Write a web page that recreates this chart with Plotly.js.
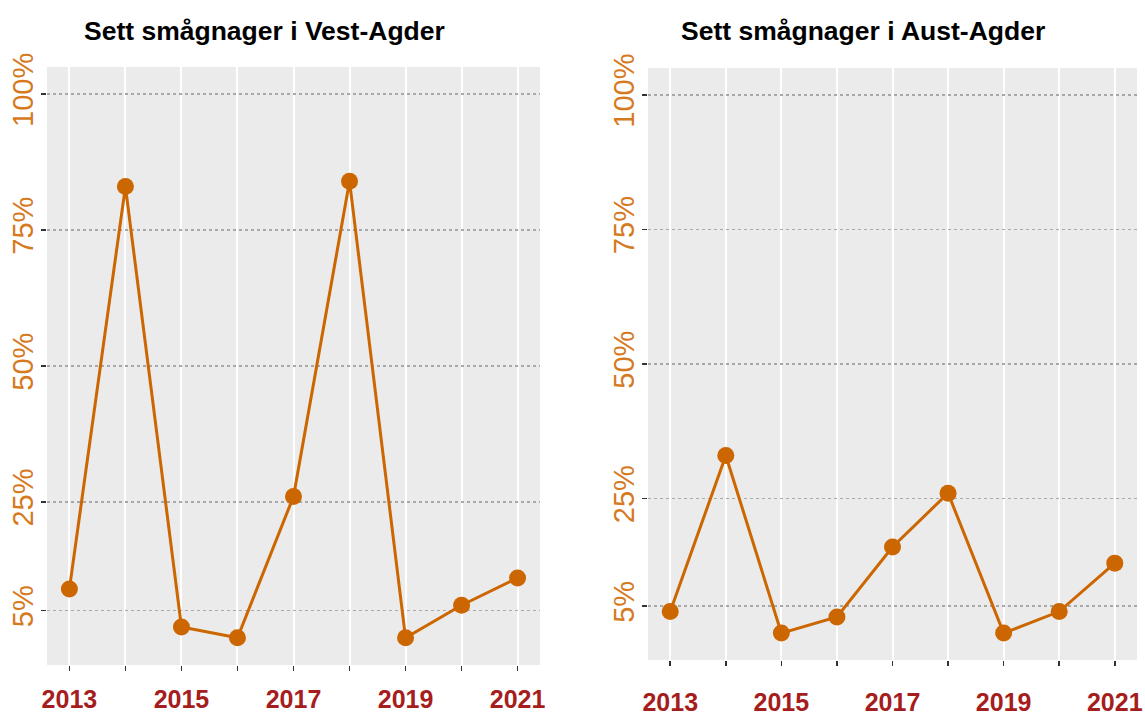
<!DOCTYPE html>
<html>
<head>
<meta charset="utf-8">
<script src="https://cdn.plot.ly/plotly-3.0.1.min.js"></script>
<style>html,body{margin:0;padding:0;background:#fff;}#chart{width:1145px;height:715px;}</style>
</head>
<body>
<div id="chart"></div>
<script>
const years = [2013, 2014, 2015, 2016, 2017, 2018, 2019, 2020, 2021];
const xTickText = ["2013", "", "2015", "", "2017", "", "2019", "", "2021"];
const vestAgder = [9, 83, 2, 0, 26, 84, 0, 6, 11];
const austAgder = [4, 33, 0, 3, 16, 26, 0, 4, 13];
const yTickVals = [5, 25, 50, 75, 100];
const yTickText = ["5%", "25%", "50%", "75%", "100%"];
const titles = ["Sett smågnager i Vest-Agder", "Sett smågnager i Aust-Agder"];

const W = 1145, H = 715;
const FONT = "Liberation Sans, Arial, Helvetica, sans-serif";
const lineColor = "#CC6600";
const yLabColor = "#D67A1F";
const xLabColor = "#A51D1D";

function trace(y, xa, ya) {
  return {
    x: years, y: y, xaxis: xa, yaxis: ya,
    type: "scatter", mode: "lines+markers",
    line: {color: lineColor, width: 3},
    marker: {color: lineColor, size: 17},
    hoverinfo: "x+y", showlegend: false
  };
}

function xaxis(dom, anchor, standoff) {
  return {
    domain: dom, anchor: anchor, range: [2012.6, 2021.4],
    tickmode: "array", tickvals: years, ticktext: xTickText,
    ticks: "outside", ticklen: 5, tickwidth: 1.5, tickcolor: "#333",
    tickfont: {family: FONT, size: 25, color: xLabColor, weight: "bold"},
    ticklabelstandoff: standoff,
    showgrid: true, gridcolor: "#ffffff", gridwidth: 2,
    zeroline: false, showline: false, fixedrange: true
  };
}
function yaxis(dom, anchor) {
  return {
    domain: dom, anchor: anchor, range: [-5, 105],
    tickmode: "array", tickvals: yTickVals, ticktext: yTickText,
    ticks: "outside", ticklen: 5, tickwidth: 1.5, tickcolor: "#333",
    tickangle: -90, ticklabelstandoff: -4,
    tickfont: {family: FONT, size: 29, color: yLabColor},
    showgrid: true, gridcolor: "#A8A8A8", gridwidth: 1.5, griddash: "dot",
    zeroline: false, showline: false, fixedrange: true
  };
}

const data = [trace(vestAgder, "x", "y"), trace(austAgder, "x2", "y2")];

const layout = {
  width: W, height: H,
  margin: {l: 0, r: 0, t: 0, b: 0},
  paper_bgcolor: "#ffffff",
  plot_bgcolor: "#EBEBEB",
  font: {family: FONT},
  xaxis: xaxis([47 / W, 540 / W], "y", 7),
  yaxis: yaxis([(H - 665) / H, (H - 67) / H], "x"),
  xaxis2: xaxis([648 / W, 1137 / W], "y2", 15),
  yaxis2: yaxis([(H - 660) / H, (H - 68) / H], "x2"),
  annotations: [
    {text: "<b>" + titles[0] + "</b>", xref: "paper", yref: "paper",
     x: 264 / W, y: (H - 31) / H, xanchor: "center", yanchor: "middle",
     showarrow: false, font: {family: FONT, size: 26.5, color: "#000"}},
    {text: "<b>" + titles[1] + "</b>", xref: "paper", yref: "paper",
     x: 863 / W, y: (H - 31) / H, xanchor: "center", yanchor: "middle",
     showarrow: false, font: {family: FONT, size: 26.5, color: "#000"}}
  ]
};

Plotly.newPlot("chart", data, layout, {displayModeBar: false, staticPlot: true});
</script>
</body>
</html>
